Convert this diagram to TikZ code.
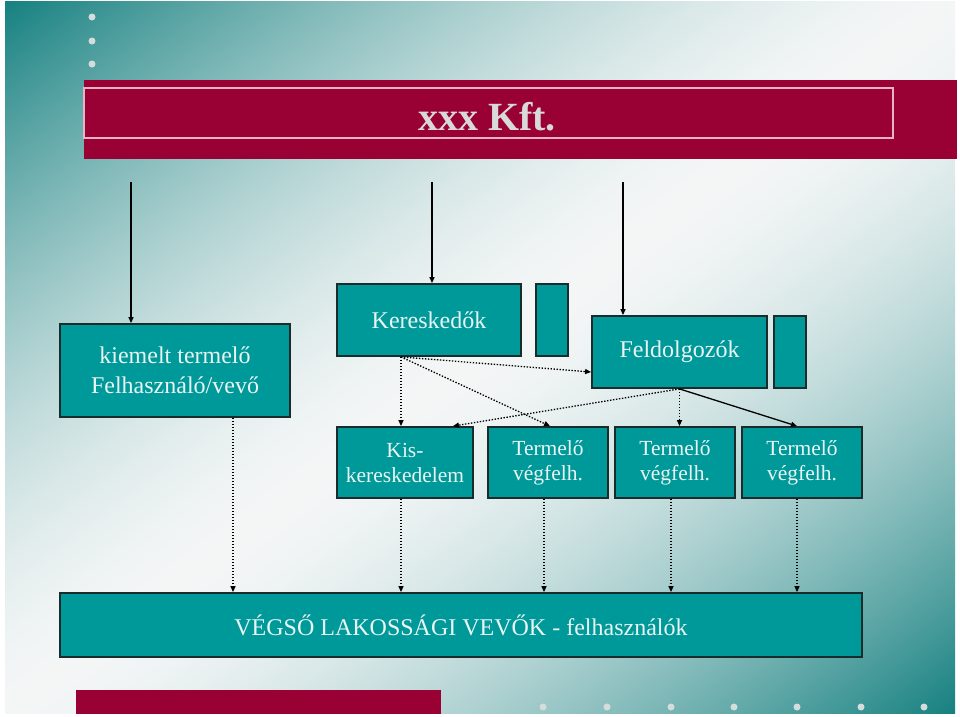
\documentclass[tikz,border=0pt]{standalone}
\usepackage{fontspec}
\setmainfont{Liberation Serif}
\usepackage{xcolor}
\usepackage{tikz}
\usetikzlibrary{positioning, arrows.meta, calc}

\definecolor{boxteal}{HTML}{009999}
\definecolor{boxline}{HTML}{1A2B2B}
\definecolor{titlered}{HTML}{990033}
\definecolor{titlegray}{HTML}{D9D9D9}
\definecolor{framepink}{HTML}{E8B4C2}
\definecolor{dotgray}{HTML}{D5DCDC}
\definecolor{boxtext}{HTML}{EAF4F4}

% teal in the top left and bottom right corners, light across the middle
\pgfdeclarefunctionalshading{bgshade}{\pgfpointorigin}{\pgfpoint{100bp}{100bp}}{}{
    exch 50 add exch sub 100 div
    0.5 sub abs 2 mul
    1.6 exp
    dup 1 gt {pop 1} if
    dup -0.871 mul 0.957 add exch
    dup -0.463 mul 0.965 add exch
    -0.463 mul 0.965 add
}

\begin{document}
\begin{tikzpicture}[x=1pt, y=-1pt,
    tealbox/.style={draw=boxline, line width=1.8pt, fill=boxteal, text=boxtext, align=center, inner sep=0pt},
    bigtext/.style={font=\fontsize{24}{30}\selectfont},
    smalltext/.style={font=\fontsize{21.5}{25}\selectfont},
    link/.style={line width=1.3pt, -{Triangle[length=6pt, width=5pt]}},
    dotlink/.style={link, dash pattern=on 1.4pt off 1.6pt}]
    \useasboundingbox (0,0) rectangle (960,716);
    % background
    \shade[shading=bgshade] (5,1) rectangle (955,713);
    \foreach \y in {17,41,64} {
        \fill[dotgray] (92,\y) circle (3.5);
    }
    \foreach \x in {543,607,671,734,797,861,924} {
        \fill[dotgray] (\x,707) circle (3.5);
    }
    \fill[titlered] (76,690) rectangle (441,714);
    % title bar
    \fill[titlered] (84,80) rectangle (957,159);
    \draw[framepink, line width=1.2pt] (84,88) rectangle (893,138);
    \node[text=titlegray, font=\fontsize{40}{44}\selectfont\bfseries] (title) at (487,117) {xxx Kft.};
    % boxes
    \node[tealbox, bigtext, minimum width=230pt, minimum height=93pt] (kiemelt) at (175,370.5) {kiemelt termelő\\Felhasználó/vevő};
    \node[tealbox, bigtext, minimum width=184pt, minimum height=72pt] (keresk) at (429,320) {Kereskedők};
    \node[tealbox, minimum width=32pt, minimum height=72pt] (kereskSide) at (552,320) {};
    \node[tealbox, bigtext, minimum width=175pt, minimum height=72pt] (feldolg) at (679.5,352) {Feldolgozók};
    \node[tealbox, minimum width=32pt, minimum height=72pt] (feldolgSide) at (790,352) {};
    \node[tealbox, smalltext, minimum width=136pt, minimum height=71pt] (kisker) at (405,462.5) {Kis-\\kereskedelem};
    \node[tealbox, smalltext, minimum width=120pt, minimum height=71pt] (termA) at (548,462.5) {Termelő\\végfelh.};
    \node[tealbox, smalltext, minimum width=120pt, minimum height=71pt] (termB) at (675,462.5) {Termelő\\végfelh.};
    \node[tealbox, smalltext, minimum width=120pt, minimum height=71pt] (termC) at (802,462.5) {Termelő\\végfelh.};
    \node[tealbox, bigtext, minimum width=802pt, minimum height=64pt] (vegso) at (461,625) {VÉGSŐ LAKOSSÁGI VEVŐK - felhasználók};
    % feeds from the title bar
    \coordinate (inA) at (131,182);
    \coordinate (inB) at (432,182);
    \coordinate (inC) at (623,182);
    \draw[link] (inA) -- (inA |- kiemelt.north);
    \draw[link] (inB) -- (inB |- keresk.north);
    \draw[link] (inC) -- (inC |- feldolg.north);
    % out of Kereskedők
    \coordinate (kOut) at ([xshift=-28pt]keresk.south);
    \draw[dotlink] (kOut) -- (kOut |- kisker.north);
    \draw[dotlink] (kOut) -- ([yshift=-20pt]feldolg.west);
    \draw[dotlink] (kOut) -- ([xshift=2pt]termA.north);
    % out of Feldolgozók
    \coordinate (fOut) at (feldolg.south);
    \draw[dotlink] (fOut) -- ([xshift=-21pt]kisker.north east);
    \draw[dotlink] (fOut) -- (fOut |- termB.north);
    \draw[link] (fOut) -- ([xshift=-5pt]termC.north);
    % down to the end users
    \foreach \n/\x in {kiemelt/233, kisker/401, termA/544, termB/671, termC/797} {
        \coordinate (d\n) at (\x,0);
        \draw[dotlink] (d\n |- \n.south) -- (d\n |- vegso.north);
    }
\end{tikzpicture}
\end{document}
